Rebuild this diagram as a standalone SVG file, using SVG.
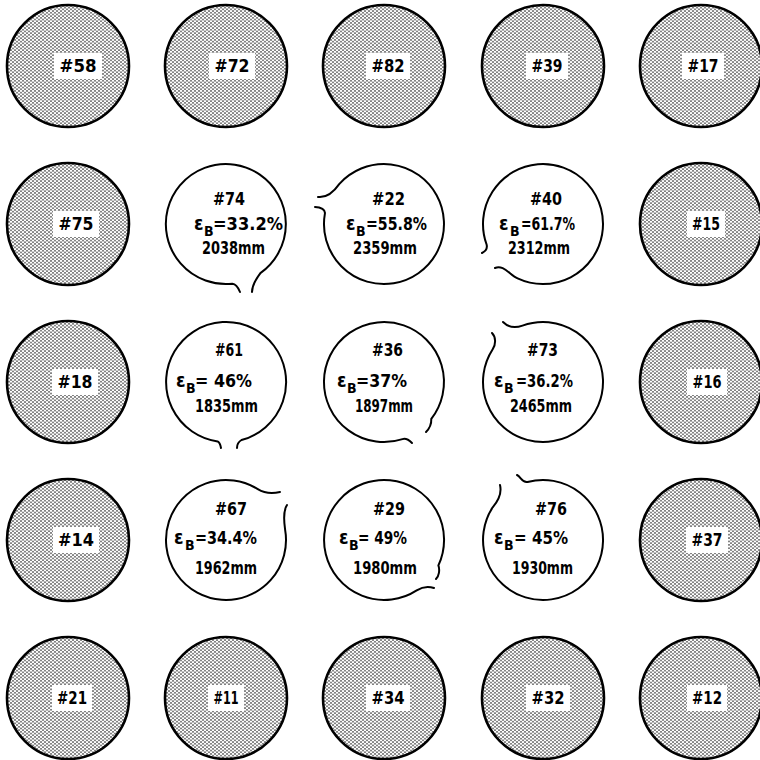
<svg xmlns="http://www.w3.org/2000/svg" width="760" height="760" viewBox="0 0 760 760">
<defs>
<pattern id="dots" patternUnits="userSpaceOnUse" width="4" height="3.4">
<rect width="4" height="3.4" fill="#fff"/>
<circle cx="1" cy="0.85" r="0.75" fill="#222"/>
<circle cx="3" cy="2.55" r="0.75" fill="#222"/>
</pattern>
<style>
.g circle{fill:url(#dots);stroke:#000;stroke-width:2.6}
.g rect{fill:#fff}
.g text{font-family:'DejaVu Sans Condensed','DejaVu Sans',sans-serif;font-weight:bold;font-size:18px;text-anchor:middle;fill:#000}
.b path{fill:none;stroke:#000;stroke-width:2;stroke-linecap:round}
.b text{font-family:'DejaVu Sans Condensed','DejaVu Sans',sans-serif;font-weight:bold;font-size:17px;fill:#000}
.b .e{font-size:19px}
.b .s{font-size:14px}
</style>
</defs>
<rect width="760" height="760" fill="#fff"/>

<!-- Row 1 -->
<g id="n58" class="g"><circle cx="68" cy="66" r="61"/><rect x="54" y="53" width="48" height="26"/><text x="78" y="72" textLength="37" lengthAdjust="spacingAndGlyphs">#58</text></g>
<g id="n72" class="g"><circle cx="226" cy="66" r="61"/><rect x="209" y="53" width="46" height="26"/><text x="232" y="72" textLength="35" lengthAdjust="spacingAndGlyphs">#72</text></g>
<g id="n82" class="g"><circle cx="384" cy="66" r="61"/><rect x="366" y="53" width="44" height="26"/><text x="388" y="72" textLength="33" lengthAdjust="spacingAndGlyphs">#82</text></g>
<g id="n39" class="g"><circle cx="543" cy="66" r="61"/><rect x="526" y="53" width="42" height="26"/><text x="547" y="72" textLength="31" lengthAdjust="spacingAndGlyphs">#39</text></g>
<g id="n17" class="g"><circle cx="701" cy="66" r="61"/><rect x="682" y="53" width="42" height="26"/><text x="703" y="72" textLength="31" lengthAdjust="spacingAndGlyphs">#17</text></g>

<!-- Row 2 -->
<g id="n75" class="g"><circle cx="68" cy="224" r="61"/><rect x="53" y="211" width="46" height="26"/><text x="76" y="230" textLength="35" lengthAdjust="spacingAndGlyphs">#75</text></g>
<g id="n74" class="b"><path d="M240,292 C238,287 236,284 232.3,283.7 A60,60 0 1 1 260.4,273.1 C256,279 252,285 252,292"/>
<text x="213" y="205" textLength="32" lengthAdjust="spacingAndGlyphs">#74</text>
<text><tspan class="e" x="194" y="230">ε</tspan><tspan class="s" x="204" y="236">B</tspan><tspan x="213" y="230" textLength="70" lengthAdjust="spacingAndGlyphs">=33.2%</tspan></text>
<text x="202" y="254" textLength="63" lengthAdjust="spacingAndGlyphs">2038mm</text></g>
<g id="n22" class="b"><path d="M318,197 C326,198 333,193 339.4,183.9 A60,60 0 1 1 324.9,213.6 C325.5,210 321,207 315,207"/>
<text x="372" y="205" textLength="33" lengthAdjust="spacingAndGlyphs">#22</text>
<text><tspan class="e" x="346" y="230">ε</tspan><tspan class="s" x="356" y="236">B</tspan><tspan x="366" y="230" textLength="61" lengthAdjust="spacingAndGlyphs">=55.8%</tspan></text>
<text x="353" y="254" textLength="64" lengthAdjust="spacingAndGlyphs">2359mm</text></g>
<g id="n40" class="b"><path d="M482,253 C486,251 487.5,248 486.6,244.5 A60,60 0 1 1 517.6,278.4 C510,275 503,264 495,268"/>
<text x="530" y="205" textLength="32" lengthAdjust="spacingAndGlyphs">#40</text>
<text><tspan class="e" x="499" y="230">ε</tspan><tspan class="s" x="510" y="236">B</tspan><tspan x="521" y="230" textLength="54" lengthAdjust="spacingAndGlyphs">=61.7%</tspan></text>
<text x="508" y="254" textLength="62" lengthAdjust="spacingAndGlyphs">2312mm</text></g>
<g id="n15" class="g"><circle cx="701" cy="224" r="61"/><rect x="687" y="211" width="38" height="26"/><text x="706" y="230" textLength="28" lengthAdjust="spacingAndGlyphs">#15</text></g>

<!-- Row 3 -->
<g id="n18" class="g"><circle cx="68" cy="382" r="61"/><rect x="52" y="369" width="46" height="26"/><text x="75" y="388" textLength="35" lengthAdjust="spacingAndGlyphs">#18</text></g>
<g id="n61" class="b"><path d="M221,448 C220.5,445 220,442.5 217.6,441.4 A60,60 0 1 1 241.5,440 C238,442 237,445 237,448"/>
<text x="215" y="356" textLength="28" lengthAdjust="spacingAndGlyphs">#61</text>
<text><tspan class="e" x="176" y="387">ε</tspan><tspan class="s" x="186" y="393">B</tspan><tspan x="195" y="387" textLength="57" lengthAdjust="spacingAndGlyphs">= 46%</tspan></text>
<text x="195" y="412" textLength="63" lengthAdjust="spacingAndGlyphs">1835mm</text></g>
<g id="n36" class="b"><path d="M426,432 C429,429 431.5,424 431.3,418.9 A60,60 0 1 0 402.5,439.1 C406,438 409,440 412,443"/>
<text x="372" y="356" textLength="31" lengthAdjust="spacingAndGlyphs">#36</text>
<text><tspan class="e" x="337" y="387">ε</tspan><tspan class="s" x="347" y="393">B</tspan><tspan x="356" y="387" textLength="51" lengthAdjust="spacingAndGlyphs">=37%</tspan></text>
<text x="355" y="412" textLength="58" lengthAdjust="spacingAndGlyphs">1897mm</text></g>
<g id="n73" class="b"><path d="M492,333 C496,337 496,344 492.7,349.3 A60,60 0 1 0 522.5,325.6 C516,328 509,328 503,322"/>
<text x="527" y="356" textLength="31" lengthAdjust="spacingAndGlyphs">#73</text>
<text><tspan class="e" x="494" y="387">ε</tspan><tspan class="s" x="504" y="393">B</tspan><tspan x="516" y="387" textLength="57" lengthAdjust="spacingAndGlyphs">=36.2%</tspan></text>
<text x="510" y="412" textLength="62" lengthAdjust="spacingAndGlyphs">2465mm</text></g>
<g id="n16" class="g"><circle cx="701" cy="382" r="61"/><rect x="687" y="369" width="40" height="26"/><text x="707" y="388" textLength="29" lengthAdjust="spacingAndGlyphs">#16</text></g>

<!-- Row 4 -->
<g id="n14" class="g"><circle cx="68" cy="540" r="61"/><rect x="53" y="527" width="46" height="26"/><text x="76" y="546" textLength="36" lengthAdjust="spacingAndGlyphs">#14</text></g>
<g id="n67" class="b"><path d="M280,492 C272,494 264,493 257.8,489.1 A60,60 0 1 0 285.1,529.6 C284,522 283,511 287,505"/>
<text x="215" y="515" textLength="32" lengthAdjust="spacingAndGlyphs">#67</text>
<text><tspan class="e" x="174" y="544">ε</tspan><tspan class="s" x="185" y="550">B</tspan><tspan x="195" y="544" textLength="62" lengthAdjust="spacingAndGlyphs">=34.4%</tspan></text>
<text x="195" y="574" textLength="62" lengthAdjust="spacingAndGlyphs">1962mm</text></g>
<g id="n29" class="b"><path d="M436,579 C439,576 440,570 438.4,565.4 A60,60 0 1 0 416.7,590.3 C422,587 428,586 434,588"/>
<text x="373" y="515" textLength="32" lengthAdjust="spacingAndGlyphs">#29</text>
<text><tspan class="e" x="339" y="544">ε</tspan><tspan class="s" x="349" y="550">B</tspan><tspan x="358" y="544" textLength="49" lengthAdjust="spacingAndGlyphs">= 49%</tspan></text>
<text x="353" y="574" textLength="64" lengthAdjust="spacingAndGlyphs">1980mm</text></g>
<g id="n76" class="b"><path d="M500,485 C502,493 498,501 492.7,507.3 A60,60 0 1 0 527.5,482 C522,483 521,477 517,475"/>
<text x="535" y="515" textLength="32" lengthAdjust="spacingAndGlyphs">#76</text>
<text><tspan class="e" x="494" y="544">ε</tspan><tspan class="s" x="504" y="550">B</tspan><tspan x="514" y="544" textLength="54" lengthAdjust="spacingAndGlyphs">= 45%</tspan></text>
<text x="512" y="574" textLength="61" lengthAdjust="spacingAndGlyphs">1930mm</text></g>
<g id="n37" class="g"><circle cx="701" cy="540" r="61"/><rect x="686" y="527" width="42" height="26"/><text x="707" y="546" textLength="31" lengthAdjust="spacingAndGlyphs">#37</text></g>

<!-- Row 5 -->
<g id="n21" class="g"><circle cx="68" cy="698" r="61"/><rect x="52" y="685" width="40" height="26"/><text x="72" y="704" textLength="30" lengthAdjust="spacingAndGlyphs">#21</text></g>
<g id="n11" class="g"><circle cx="226" cy="698" r="61"/><rect x="208" y="685" width="36" height="26"/><text x="226" y="704" textLength="25" lengthAdjust="spacingAndGlyphs">#11</text></g>
<g id="n34" class="g"><circle cx="384" cy="698" r="61"/><rect x="366" y="685" width="44" height="26"/><text x="388" y="704" textLength="33" lengthAdjust="spacingAndGlyphs">#34</text></g>
<g id="n32" class="g"><circle cx="543" cy="698" r="61"/><rect x="526" y="685" width="44" height="26"/><text x="548" y="704" textLength="33" lengthAdjust="spacingAndGlyphs">#32</text></g>
<g id="n12" class="g"><circle cx="701" cy="698" r="61"/><rect x="687" y="685" width="40" height="26"/><text x="707" y="704" textLength="30" lengthAdjust="spacingAndGlyphs">#12</text></g>

<g id="connectors"/>
</svg>
